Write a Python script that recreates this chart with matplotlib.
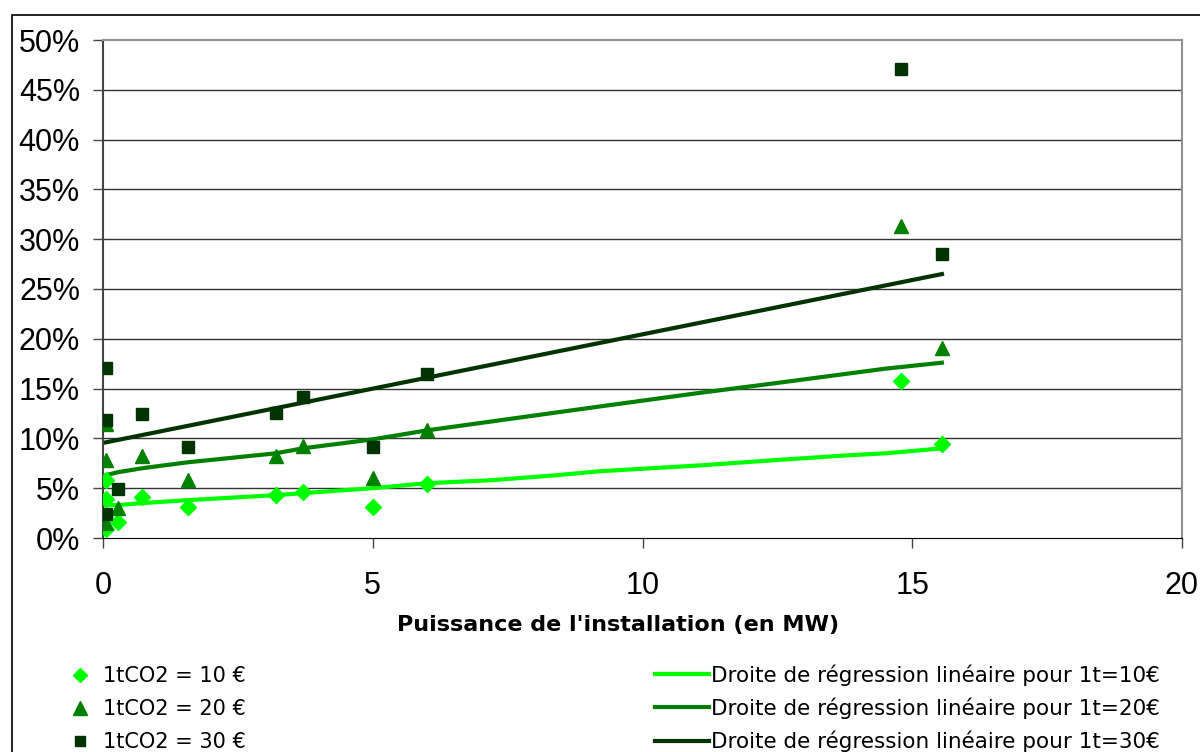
import matplotlib
matplotlib.use("Agg")
import matplotlib.pyplot as plt
from matplotlib.lines import Line2D
from matplotlib.patches import Rectangle
from matplotlib.ticker import PercentFormatter

# Scatter data: installation power (MW) and share (%) for each CO2 price
power_mw = [0.05, 0.05, 0.05, 0.27, 0.72, 1.57, 3.2, 3.7, 5.0, 6.0, 14.8, 15.55]
share_10 = [5.8, 3.9, 0.9, 1.6, 4.1, 3.1, 4.3, 4.6, 3.1, 5.4, 15.8, 9.4]
share_20 = [11.4, 7.8, 1.5, 3.0, 8.2, 5.8, 8.2, 9.2, 6.0, 10.8, 31.3, 19.1]
share_30 = [17.1, 11.8, 2.4, 4.9, 12.4, 9.1, 12.6, 14.2, 9.1, 16.5, 47.1, 28.5]

# Regression lines
reg_x = [0.05, 0.27, 0.72, 1.57, 3.2, 3.7, 5.0, 6.0, 7.2, 8.4, 9.2, 11.1, 12.4, 13.8, 14.5, 15.55]
reg_10 = [3.3, 3.3, 3.5, 3.8, 4.3, 4.5, 5.0, 5.5, 5.8, 6.3, 6.7, 7.3, 7.8, 8.3, 8.5, 9.0]
reg_20 = [6.3, 6.6, 7.0, 7.6, 8.5, 9.0, 9.9, 10.8, 11.7, 12.6, 13.2, 14.6, 15.5, 16.5, 17.0, 17.6]
reg30_x = [0.05, 15.55]
reg_30 = [9.6, 26.5]

scatter_labels = ["1tCO2 = 10 €", "1tCO2 = 20 €", "1tCO2 = 30 €"]
line_labels = ["Droite de régression linéaire pour 1t=10€",
               "Droite de régression linéaire pour 1t=20€",
               "Droite de régression linéaire pour 1t=30€"]

c10, c20, c30 = "#00ff00", "#008000", "#003300"

fig = plt.figure(figsize=(12, 7.52), dpi=100)
ax = fig.add_axes([103 / 1200, 1 - 538 / 752, (1182 - 103) / 1200, (538 - 40) / 752])

# outer chart frame
fig.patches.append(Rectangle((12 / 1200, -0.1), 1.2, 1 - 15 / 752 + 0.1,
                             transform=fig.transFigure, fill=False,
                             edgecolor="black", linewidth=1.2))

for y in range(5, 50, 5):
    ax.axhline(y / 100, color="#333333", linewidth=1.0, zorder=1)

ax.plot(reg_x, [v / 100 for v in reg_10], color=c10, lw=3, zorder=2)
ax.plot(reg_x, [v / 100 for v in reg_20], color=c20, lw=3, zorder=2)
ax.plot(reg30_x, [v / 100 for v in reg_30], color=c30, lw=3, zorder=2)

ax.plot(power_mw, [v / 100 for v in share_10], "D", color=c10, ms=8.5, mec=c10, ls="none", zorder=3)
ax.plot(power_mw, [v / 100 for v in share_20], "^", color=c20, ms=10.5, mec=c20, ls="none", zorder=3)
ax.plot(power_mw, [v / 100 for v in share_30], "s", color=c30, ms=8.5, mec=c30, ls="none", zorder=3)

ax.set_xlim(0, 20)
ax.set_ylim(0, 0.5)
ax.set_xticks([0, 5, 10, 15, 20])
ax.set_yticks([i / 100 for i in range(0, 55, 5)])
ax.yaxis.set_major_formatter(PercentFormatter(1.0, decimals=0))
ax.tick_params(axis="both", labelsize=22, length=7.5, width=1, color="#444444")
ax.tick_params(axis="y", pad=9)
ax.tick_params(axis="x", pad=16)
for lab in ax.get_xticklabels() + ax.get_yticklabels():
    lab.set_fontfamily("Liberation Sans")

ax.spines["left"].set_color("#444444")
ax.spines["left"].set_linewidth(1.5)
ax.spines["bottom"].set_color("black")
ax.spines["top"].set_color("#909090")
ax.spines["right"].set_color("#909090")
ax.spines["top"].set_linewidth(1.5)
ax.spines["right"].set_linewidth(1.5)

ax.set_xlabel("Puissance de l'installation (en MW)", fontsize=16,
              fontweight="bold")
ax.xaxis.set_label_coords((618 - 103) / 1079, -(625 - 538) / 498)
ax.xaxis.label.set_va("center")

# legends below the plot
mk_handles = [
    Line2D([], [], marker="D", color=c10, ls="none", ms=7.5),
    Line2D([], [], marker="^", color=c20, ls="none", ms=9.5),
    Line2D([], [], marker="s", color=c30, ls="none", ms=7.5),
]
ln_handles = [
    Line2D([], [], color=c10, lw=3),
    Line2D([], [], color=c20, lw=3),
    Line2D([], [], color=c30, lw=3),
]
leg1 = fig.legend(mk_handles, scatter_labels, loc="upper left",
                  bbox_to_anchor=(70 / 1200, 1 - 666 / 752), frameon=False,
                  fontsize=15, handlelength=1.0, handletextpad=0.6,
                  labelspacing=0.62, borderpad=0, borderaxespad=0)
leg2 = fig.legend(ln_handles, line_labels, loc="upper left",
                  bbox_to_anchor=(655 / 1200, 1 - 664 / 752), frameon=False,
                  fontsize=15.5, handlelength=2.5, handletextpad=0.12,
                  labelspacing=0.55, borderpad=0, borderaxespad=0)

fig.savefig("out.png", dpi=100)
